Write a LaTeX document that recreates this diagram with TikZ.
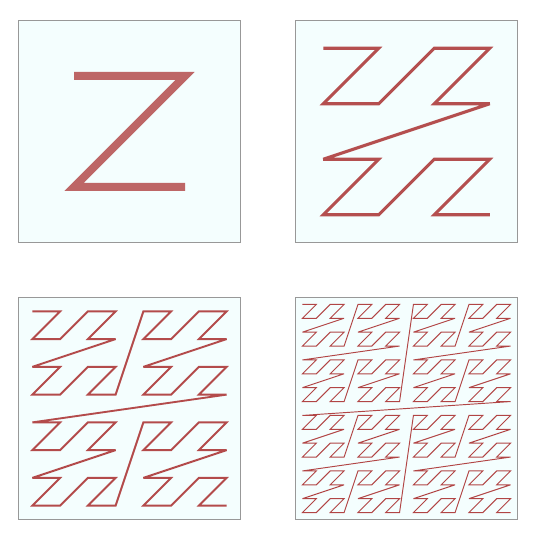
\documentclass[tikz,border=0pt]{standalone}
\usetikzlibrary{positioning,calc}
\definecolor{zred}{HTML}{AE3C3C}
\definecolor{panelbg}{HTML}{F4FEFE}
\definecolor{panelrim}{HTML}{989898}
\begin{document}
\begin{tikzpicture}[x=1pt,y=-1pt,
  panel/.style={draw=panelrim,fill=panelbg,line width=1pt,minimum size=222pt,inner sep=0pt,outer sep=0pt},
  zcurve/.style={draw=zred,line join=miter,miter limit=4,line cap=butt}]
  \useasboundingbox (0,0) rectangle (536,534);
  % the four panels, one per order
  \node[panel] (p1) at (129.5,131.5) {};
  \node[panel,right=55pt of p1] (p2) {};
  \node[panel,below=55pt of p1] (p3) {};
  \node[panel,right=55pt of p3] (p4) {};

  % ---------------- Z-order curves, order 1 to 4 ----------------
  \foreach \k/\w/\op in {1/8/0.78,2/3.1/0.9,3/1.9/0.92,4/0.95/0.95} {
    \pgfmathtruncatemacro{\n}{2^\k}
    \pgfmathtruncatemacro{\last}{4^\k-1}
    \pgfmathsetmacro{\cell}{222/\n}
    % cell centres, bits of the index split into x and y
    \foreach \i in {0,...,\last} {
      \pgfmathtruncatemacro{\cx}{mod(\i,2)+2*mod(floor(\i/4),2)+4*mod(floor(\i/16),2)+8*mod(floor(\i/64),2)}
      \pgfmathtruncatemacro{\cy}{mod(floor(\i/2),2)+2*mod(floor(\i/8),2)+4*mod(floor(\i/32),2)+8*mod(floor(\i/128),2)}
      \coordinate (z\k-\i) at ($(p\k.north west)+({(\cx+0.5)*\cell},{(\cy+0.5)*\cell})$);
    }
    \draw[zcurve,line width=\w pt,draw opacity=\op] (z\k-0) \foreach \i in {1,...,\last} {-- (z\k-\i)};
  }
\end{tikzpicture}
\end{document}
